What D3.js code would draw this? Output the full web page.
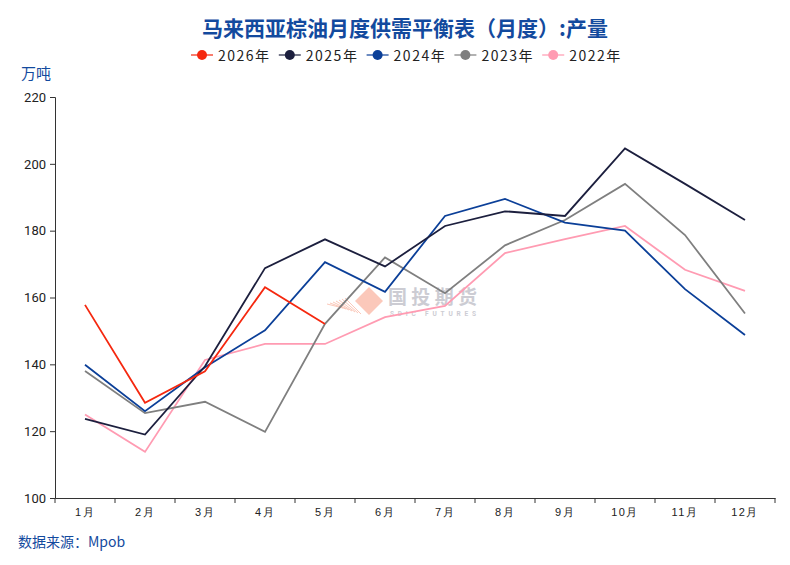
<!DOCTYPE html>
<html>
<head>
<meta charset="utf-8">
<script src="https://cdn.jsdelivr.net/npm/d3@7"></script>
<style>
  body { margin: 0; background: #fff; }
  svg { font-family: "Noto Sans CJK SC", "Noto Sans", sans-serif; }
</style>
</head>
<body>
<svg id="chart" width="790" height="565"></svg>
<script>
const months = ["1月","2月","3月","4月","5月","6月","7月","8月","9月","10月","11月","12月"];
const seriesNames = ["2026年","2025年","2024年","2023年","2022年"];
const colors = ["#f5280f","#1c1f3e","#0b3f98","#7f7f7f","#ff9bb2"];
const yTicks = [100,120,140,160,180,200,220];

const v2026 = [157.8,128.5,137.9,163.1,152.1];
const v2025 = [123.7,119.0,139.4,168.8,177.4,169.3,181.4,185.8,184.4,204.6,194.0,183.2];
const v2024 = [139.9,126.0,139.1,150.2,170.6,161.7,184.4,189.5,182.4,180.0,162.5,148.8];
const v2023 = [138.0,125.4,128.8,119.8,152.1,172.0,161.3,175.6,183.2,194.0,178.7,155.2];
const v2022 = [125.0,113.8,141.3,146.1,146.1,154.1,157.5,173.3,177.5,181.4,168.3,162.0];
const allSeries = [v2026, v2025, v2024, v2023, v2022];

const svg = d3.select("#chart");
const plotLeft = 55, plotRight = 775, plotTop = 97, plotBottom = 498;

const x = d3.scaleBand().domain(months).range([plotLeft, plotRight]);
const y = d3.scaleLinear().domain([100, 220]).range([plotBottom, plotTop]);

// title
svg.append("text")
  .attr("x", 405).attr("y", 36)
  .attr("text-anchor", "middle")
  .attr("font-size", 21).attr("font-weight", "bold")
  .attr("fill", "#134a9e")
  .text("马来西亚棕油月度供需平衡表（月度）:产量");

// legend
const legend = svg.append("g");
seriesNames.forEach((name, i) => {
  const cx = 202 + i * 87.8;
  const g = legend.append("g").attr("transform", `translate(${cx},55)`);
  g.append("line").attr("x1", -11).attr("x2", 11).attr("stroke", colors[i]).attr("stroke-width", 2).attr("opacity", 0.6);
  g.append("circle").attr("r", 5).attr("fill", colors[i]);
  g.append("text").attr("x", 16).attr("y", 5.5)
    .attr("font-size", 14).attr("letter-spacing", 1.5).attr("fill", "#222")
    .text(name);
});

// y label
svg.append("text")
  .attr("x", 21).attr("y", 79)
  .attr("font-size", 15).attr("fill", "#134a9e")
  .text("万吨");

// watermark
const wm = svg.append("g").attr("transform", "translate(369,301)").attr("opacity", 0.85);
wm.append("path").attr("d", "M0,-14 L14,0 L0,14 L-14,0 Z").attr("fill", "#fbbfae");
for (let k = 0; k < 7; k++) {
  wm.append("line")
    .attr("x1", -42 + k * 3).attr("y1", 3 - k)
    .attr("x2", -26 + k * 3).attr("y2", 7 + k)
    .attr("stroke", "#fbbfae").attr("stroke-width", 1);
}
wm.append("text").attr("x", 19).attr("y", 2.5)
  .attr("font-size", 19).attr("font-weight", "bold").attr("fill", "#c4c4cc")
  .attr("textLength", 89)
  .text("国投期货");
wm.append("text").attr("x", 21).attr("y", 14.5)
  .attr("font-size", 6.5).attr("font-weight", "bold").attr("fill", "#c4c4cc")
  .attr("font-family", "Roboto, sans-serif")
  .attr("textLength", 86)
  .text("SDIC FUTURES");

// axes
const yAxis = svg.append("g")
  .attr("transform", `translate(${plotLeft},0)`)
  .call(d3.axisLeft(y).tickValues(yTicks).tickSize(5).tickPadding(4));
yAxis.selectAll("text").attr("font-size", 13).attr("fill", "#222").attr("font-family", "Roboto, sans-serif");
yAxis.selectAll("line, path").attr("stroke", "#333");

const xAxis = svg.append("g")
  .attr("transform", `translate(0,${plotBottom})`)
  .call(d3.axisBottom(x).tickSize(0).tickPadding(10).tickSizeOuter(0));
xAxis.selectAll("text").attr("font-size", 11).attr("fill", "#222").attr("letter-spacing", 1.5);
xAxis.select("path").attr("stroke", "#333");
// tick marks at band boundaries
const bounds = months.map(m => x(m)).concat([plotRight]);
xAxis.selectAll(".bound").data(bounds).enter().append("line")
  .attr("class", "bound")
  .attr("x1", d => d).attr("x2", d => d)
  .attr("y1", 0).attr("y2", 5)
  .attr("stroke", "#333");

// lines
const line = d3.line()
  .x((d, i) => x(months[i]) + x.bandwidth() / 2)
  .y(d => y(d));

// draw older first so newer on top
for (let i = allSeries.length - 1; i >= 0; i--) {
  svg.append("path")
    .datum(allSeries[i])
    .attr("d", line)
    .attr("fill", "none")
    .attr("stroke", colors[i])
    .attr("stroke-width", 1.8);
}

// source
svg.append("text")
  .attr("x", 18).attr("y", 547)
  .attr("font-size", 14).attr("fill", "#134a9e")
  .text("数据来源：Mpob");
</script>
</body>
</html>
